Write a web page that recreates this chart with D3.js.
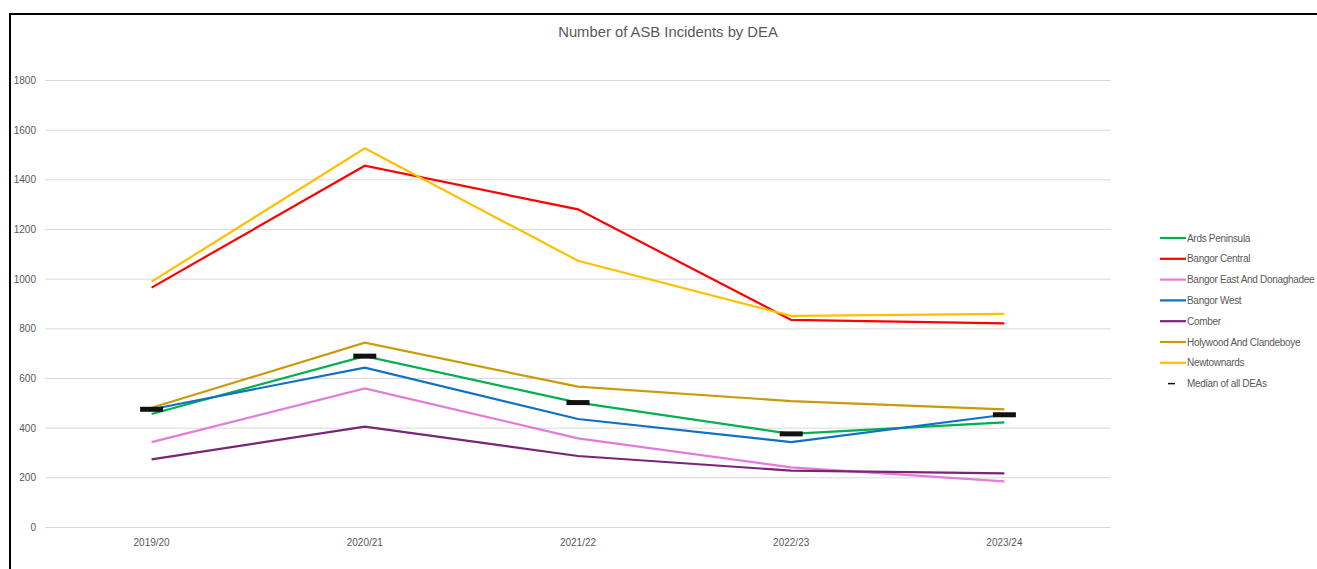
<!DOCTYPE html>
<html>
<head>
<meta charset="utf-8">
<script src="https://cdn.jsdelivr.net/npm/d3@7"></script>
<style>
  html, body { margin: 0; padding: 0; background: #fff; overflow: hidden; }
  text { font-family: "Liberation Sans", Arial, sans-serif; fill: #595959; }
</style>
</head>
<body>
<svg id="chart" width="1317" height="569"></svg>
<script>
// Financial years on the x axis
const years = ["2019/20", "2020/21", "2021/22", "2022/23", "2023/24"];

// ASB incident counts per District Electoral Area
const ardsPeninsula     = [455, 688, 501, 375, 421];
const bangorCentral     = [964, 1455, 1279, 834, 820];
const bangorEastDonag   = [342, 558, 357, 240, 184];
const bangorWest        = [474, 642, 435, 342, 452];
const comber            = [272, 404, 286, 227, 216];
const holywoodClandeboye= [480, 742, 565, 507, 474];
const newtownards       = [988, 1525, 1072, 850, 858];

// Median of all DEAs for each year
const medianAll = [474, 688, 501, 375, 452];

const seriesNames = ["Ards Peninsula", "Bangor Central", "Bangor East And Donaghadee",
  "Bangor West", "Comber", "Holywood And Clandeboye", "Newtownards"];
const seriesValues = [ardsPeninsula, bangorCentral, bangorEastDonag, bangorWest,
  comber, holywoodClandeboye, newtownards];
const seriesColors = ["#00B050", "#FF0000", "#E27BDB", "#0F70C4", "#7A2478", "#C99B0A", "#FFC000"];

const yTicks = [0, 200, 400, 600, 800, 1000, 1200, 1400, 1600, 1800];

const svg = d3.select("#chart");

// Outer chart frame
svg.append("rect")
  .attr("x", 10).attr("y", 14)
  .attr("width", 1400).attr("height", 600)
  .attr("fill", "none").attr("stroke", "#000").attr("stroke-width", 2);

// Title
svg.append("text")
  .attr("x", 668).attr("y", 37)
  .attr("text-anchor", "middle")
  .style("font-size", "14.8px")
  .text("Number of ASB Incidents by DEA");

const plot = { left: 45, right: 1111, top: 80, bottom: 527 };

const x = d3.scaleBand().domain(years).range([plot.left, plot.right]);
const y = d3.scaleLinear().domain([0, 1800]).range([plot.bottom, plot.top]);
const xc = d => x(d) + x.bandwidth() / 2;

// Horizontal gridlines and y tick labels
const yAxis = d3.axisLeft(y).tickValues(yTicks)
  .tickSize(-(plot.right - plot.left)).tickPadding(10).tickFormat(d3.format("d"));
const gy = svg.append("g").attr("transform", `translate(${plot.left},0)`).call(yAxis);
gy.select(".domain").remove();
gy.selectAll(".tick line").attr("stroke", "#D9D9D9").attr("stroke-width", 1);
gy.selectAll(".tick text").attr("fill", "#595959").style("font-size", "10px")
  .attr("x", -9).attr("text-anchor", "end").attr("dy", "0.35em");

// Category labels along the bottom
const xAxis = d3.axisBottom(x).tickSize(0).tickPadding(10);
const gx = svg.append("g").attr("transform", `translate(0,${plot.bottom})`).call(xAxis);
gx.select(".domain").remove();
gx.selectAll(".tick text").attr("fill", "#595959").style("font-size", "10px").attr("dy", "0.9em");

// Series lines
const line = d3.line().x((d, i) => xc(years[i])).y(d => y(d));
seriesValues.forEach((vals, k) => {
  svg.append("path")
    .datum(vals)
    .attr("d", line)
    .attr("fill", "none")
    .attr("stroke", seriesColors[k])
    .attr("stroke-width", 2.2)
    .attr("stroke-linejoin", "miter");
});

// Median markers
svg.append("g").selectAll("rect")
  .data(medianAll)
  .join("rect")
  .attr("x", (d, i) => xc(years[i]) - 11.5)
  .attr("y", d => y(d) - 2.5)
  .attr("width", 23)
  .attr("height", 5)
  .attr("fill", "#111");

// Legend
const legend = svg.append("g");
const legendY0 = 238, legendStep = 20.8;
seriesNames.forEach((name, k) => {
  const ly = legendY0 + k * legendStep;
  legend.append("line")
    .attr("x1", 1160).attr("x2", 1186).attr("y1", ly).attr("y2", ly)
    .attr("stroke", seriesColors[k]).attr("stroke-width", 2.2);
  legend.append("text")
    .attr("x", 1187).attr("y", ly).attr("dy", "0.35em")
    .style("font-size", "10px")
    .style("letter-spacing", "-0.3px")
    .text(name);
});
const medY = legendY0 + seriesNames.length * legendStep;
legend.append("line")
  .attr("x1", 1168).attr("x2", 1175).attr("y1", medY).attr("y2", medY)
  .attr("stroke", "#111").attr("stroke-width", 1.5);
legend.append("text")
  .attr("x", 1187).attr("y", medY).attr("dy", "0.35em")
  .style("font-size", "10px")
  .style("letter-spacing", "-0.3px")
  .text("Median of all DEAs");
</script>
</body>
</html>
